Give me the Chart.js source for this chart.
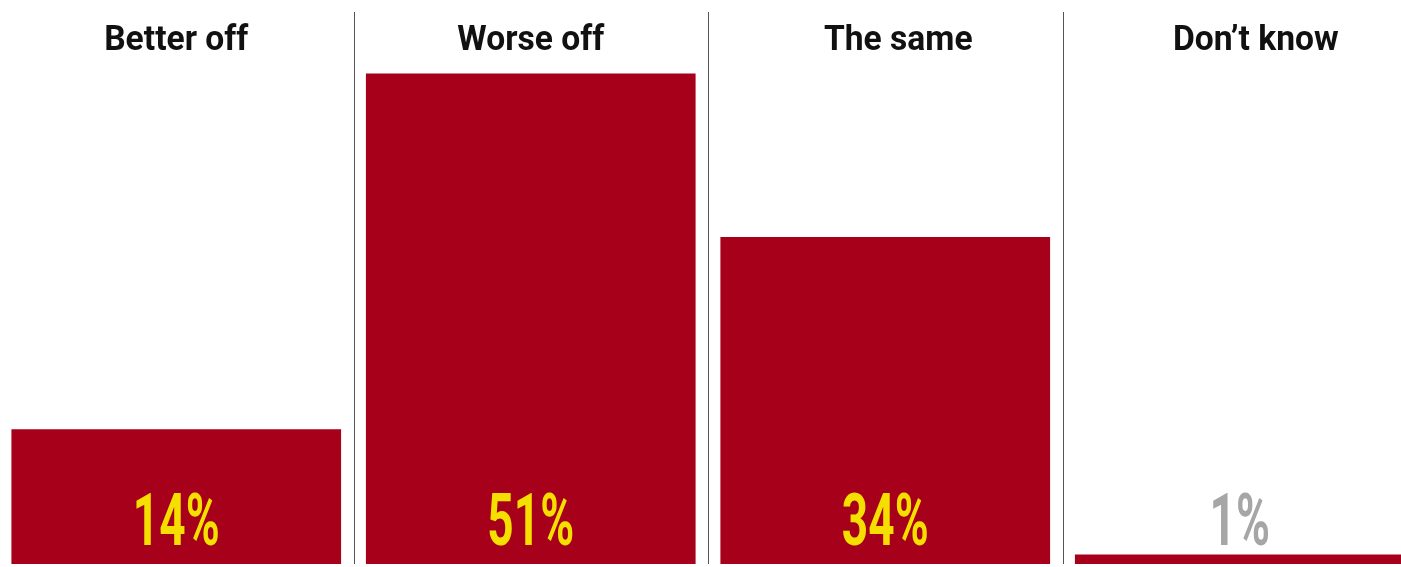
<!DOCTYPE html>
<html>
<head>
<meta charset="utf-8">
<script src="https://cdn.jsdelivr.net/npm/chart.js@4/dist/chart.umd.min.js"></script>
<style>
  html, body { margin: 0; padding: 0; background: #fff; overflow: hidden; }
  #wrap { position: absolute; left: -1px; top: 0; width: 1418px; height: 567px; }
</style>
</head>
<body>
<div id="wrap"><canvas id="chart"></canvas></div>
<script>
// Chart data
const categories = ['Better off', 'Worse off', 'The same', 'Don\u2019t know'];
const shares = [14, 51, 34, 1];
const valueColors = ['#F5DF00', '#F5DF00', '#F5DF00', '#A6A6A6'];

// titles in the original sit a little right of the bar centre in the last two columns
const titleShift = [0, 0, 13, 16];

// Category titles, separators and value labels
const labelsPlugin = {
    id: 'labels',
    afterDatasetsDraw(chart) {
        const { ctx, chartArea, scales } = chart;
        const x = scales.x;
        ctx.save();

        // vertical separators between columns
        ctx.strokeStyle = '#555';
        ctx.lineWidth = 1;
        for (let i = 1; i < categories.length; i++) {
            const px = Math.round((x.getPixelForValue(i - 1) + x.getPixelForValue(i)) / 2) + 0.5;
            ctx.beginPath();
            ctx.moveTo(px, chartArea.top);
            ctx.lineTo(px, chartArea.bottom);
            ctx.stroke();
        }

        // column titles
        ctx.fillStyle = '#111';
        ctx.textAlign = 'center';
        ctx.textBaseline = 'alphabetic';
        categories.forEach((c, i) => {
            const cx = x.getPixelForValue(i) + titleShift[i];
            ctx.save();
            ctx.translate(cx, 50);
            ctx.scale(0.96, 1);
            ctx.font = 'bold 35px Roboto';
            ctx.fillText(c, 0, 0);
            ctx.restore();
        });

        // percentage labels
        shares.forEach((v, i) => {
            const cx = x.getPixelForValue(i);
            ctx.save();
            ctx.translate(cx, 545);
            ctx.scale(0.63, 1);
            ctx.font = 'bold 73px Roboto';
            ctx.fillStyle = valueColors[i];
            ctx.fillText(v + '%', 0, 0);
            ctx.restore();
        });
        ctx.restore();
    }
};

new Chart(document.getElementById('chart'), {
    type: 'bar',
    data: {
        labels: categories,
        datasets: [{
            data: shares,
            backgroundColor: '#A6001A',
            borderWidth: 0,
            categoryPercentage: 1,
            barPercentage: 0.93
        }]
    },
    options: {
        responsive: true,
        maintainAspectRatio: false,
        animation: false,
        layout: { padding: { top: 12, bottom: 3, left: 0, right: 0 } },
        plugins: {
            legend: { display: false },
            tooltip: { enabled: false }
        },
        scales: {
            x: { display: false },
            y: { display: false, min: 0, max: 57.4 }
        }
    },
    plugins: [labelsPlugin]
});
</script>
</body>
</html>
